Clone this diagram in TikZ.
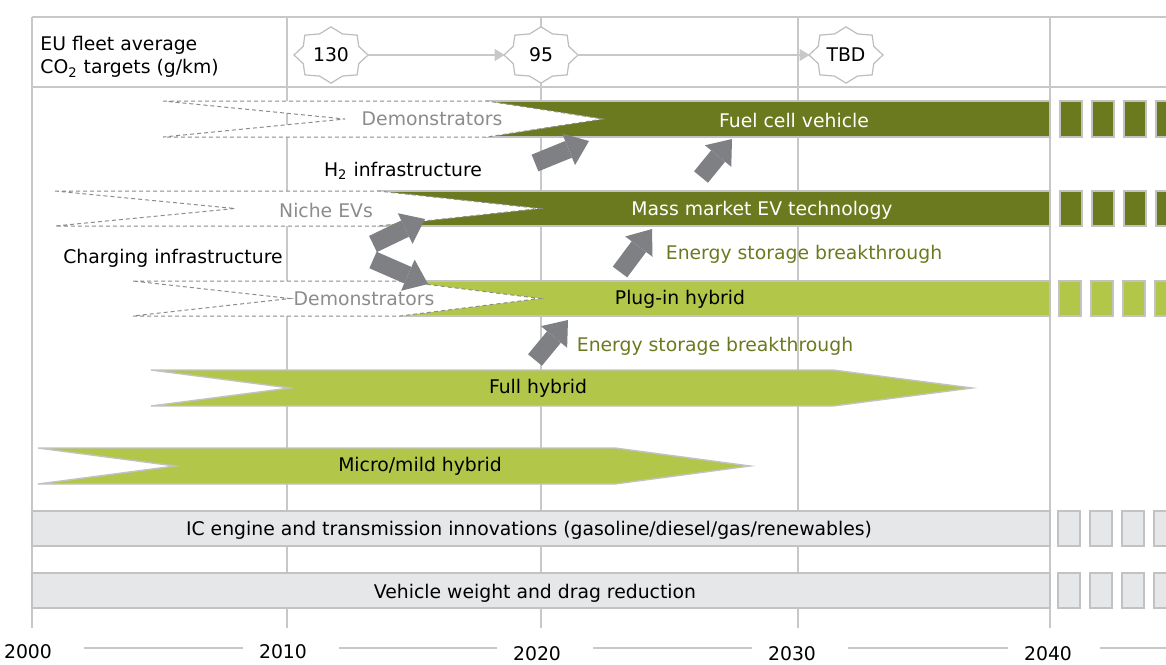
\documentclass[tikz,border=0pt]{standalone}
\usepackage{fontspec}
\setmainfont{DejaVu Sans}
\usepackage{xcolor}
\definecolor{cDark}{HTML}{6B7A1F}
\definecolor{cLight}{HTML}{B2C64A}
\definecolor{cBand}{HTML}{E6E7E8}
\definecolor{cEdge}{HTML}{C2C2C2}
\definecolor{cGrid}{HTML}{C8C8C8}
\definecolor{cArrow}{HTML}{7F8084}
\definecolor{cFaint}{HTML}{8C8C8C}
\definecolor{cStar}{HTML}{BDBDBD}
\usepackage{tikz}
\usetikzlibrary{positioning,arrows.meta,calc}
\tikzset{
  grid-line/.style={draw=cGrid,line width=0.8pt},
  bar-dark/.style={fill=cDark,draw=cEdge,line width=0.7pt},
  bar-light/.style={fill=cLight,draw=cEdge,line width=0.7pt},
  bar-band/.style={fill=cBand,draw=cEdge,line width=0.9pt},
  % faded lead-in part of a row (demonstrators / niche)
  bar-ghost/.style={fill=white,draw=cFaint,line width=0.5pt,dash pattern=on 2pt off 1.5pt},
  text-ghost/.style={text=cFaint},
  text-green/.style={text=cDark},
  co2-star/.style={minimum width=36pt,minimum height=26pt},
  star-line/.style={draw=cStar,line width=0.6pt,fill=white},
  co2-link/.style={draw=cGrid,line width=0.6pt,-{Triangle[length=5pt,width=6pt]}},
  push-arrow/.style={draw=cArrow,line width=9pt,-{Triangle[length=11pt,width=17pt,line width=0pt]}},
  axis-line/.style={draw=cGrid,line width=0.8pt},
}

\begin{document}
\begin{tikzpicture}[x=0.5pt,y=-0.5pt,every node/.append style={font=\fontsize{9.4}{11.5}\selectfont,inner sep=0pt}]
  \clip (0,0) rectangle (1166,664);

  % frame and year grid
  \draw[grid-line] (32,17) -- (1166,17);
  \draw[grid-line] (32,87) -- (1166,87);
  \foreach \x in {32,287,541,798,1050}
    \draw[grid-line] (\x,17) -- (\x,628);

  % header
  \node[anchor=west,align=left] (eu) at (40,57) {EU fleet average\\CO\textsubscript{2} targets (g/km)};
  \node[co2-star] (s130) at (331,55) {};
  \node[co2-star] (s95)  at (541,55) {};
  \node[co2-star] (stbd) at (846,55) {};
  \foreach \s in {s130,s95,stbd}
    \draw[star-line,shift={(\s.center)},yscale=0.76] (0:37)
      \foreach \a in {0,45,...,315}{ -- ({\a+22.5}:30) -- ({\a+45}:37) } -- cycle;
  \node at (s130) {130};
  \node at (s95)  {95};
  \node at (stbd) {TBD};
  \draw[co2-link] (s130) -- (s95);
  \draw[co2-link] (s95) -- (stbd);

  % bands at the bottom
  \draw[bar-band] (32,511) rectangle (1050,546);
  \draw[bar-band] (32,573) rectangle (1050,608);
  \foreach \x in {1058,1090,1122,1154}{
    \draw[bar-band] (\x,511) rectangle ++(22,35);
    \draw[bar-band] (\x,573) rectangle ++(22,35);
  }
  \node (ice) at (529,530) {IC engine and transmission innovations (gasoline/diesel/gas/renewables)};
  \node (weight) at (535,593) {Vehicle weight and drag reduction};

  % fuel cell row
  \draw[bar-dark] (487,101) rectangle (1050,137);
  \foreach \x in {1060,1092,1124,1156}
    \draw[bar-dark] (\x,101) rectangle ++(22,36);
  \draw[bar-ghost] (163,101) -- (487,101) -- (603,119) -- (487,137) -- (163,137) -- (345,119) -- cycle;
  \node[text-ghost] (demo-fc) at (432,119) {Demonstrators};
  \node[text=white] (fcv) at (794,120) {Fuel cell vehicle};

  % EV row
  \draw[bar-dark] (378,191) rectangle (1050,226);
  \foreach \x in {1060,1092,1124,1156}
    \draw[bar-dark] (\x,191) rectangle ++(22,35);
  \draw[bar-ghost] (55,191) -- (378,191) -- (540,208.5) -- (378,226) -- (55,226) -- (235,208.5) -- cycle;
  \node[text-ghost] (niche) at (326,210) {Niche EVs};
  \node[text=white] (ev) at (762,210) {Mass market EV technology};

  % plug-in row
  \draw[bar-light] (400,281) rectangle (1050,316);
  \foreach \x in {1059,1091,1123,1155}
    \draw[bar-light] (\x,281) rectangle ++(22,35);
  \draw[bar-ghost] (133,281) -- (400,281) -- (540,298.5) -- (400,316) -- (133,316) -- (290,298.5) -- cycle;
  \node[text-ghost] (demo-phev) at (364,299) {Demonstrators};
  \node (phev) at (680,299) {Plug-in hybrid};

  % hybrids
  \draw[bar-light] (151,370) -- (833,370) -- (972,388) -- (833,406) -- (151,406) -- (290,388) -- cycle;
  \node (full) at (538,388) {Full hybrid};
  \draw[bar-light] (38,448) -- (615,448) -- (750,466) -- (615,484) -- (38,484) -- (175,466) -- cycle;
  \node (mild) at (420,466) {Micro/mild hybrid};

  % enablers
  \node (h2) at (403,171) {H\textsubscript{2} infrastructure};
  \node (charge) at (173,258) {Charging infrastructure};
  \node[text-green] (esb-ev) at (804,254) {Energy storage breakthrough};
  \node[text-green] (esb-phev) at (715,346) {Energy storage breakthrough};

  \coordinate (h2-from) at (535,163);     \coordinate (h2-to) at (589,141);
  \coordinate (fc-from) at (701,177);     \coordinate (fc-to) at (732,139);
  \coordinate (ev-from) at (620,272);     \coordinate (ev-to) at (652,229);
  \coordinate (phev-from) at (535,360);   \coordinate (phev-to) at (568,320);
  \coordinate (niche-from) at (373,244);  \coordinate (niche-to) at (425,219);
  \coordinate (demo-from) at (373,260);   \coordinate (demo-to) at (428,284);
  \draw[push-arrow] (h2-from) -- (h2-to);
  \draw[push-arrow] (fc-from) -- (fc-to);
  \draw[push-arrow] (ev-from) -- (ev-to);
  \draw[push-arrow] (phev-from) -- (phev-to);
  \draw[push-arrow] (niche-from) -- (niche-to);
  \draw[push-arrow] (demo-from) -- (demo-to);

  % years
  \node (y2000) at (28,652) {2000};
  \node (y2010) at (283,652) {2010};
  \node (y2020) at (537,654) {2020};
  \node (y2030) at (792,654) {2030};
  \node (y2040) at (1048,654) {2040};
  \coordinate (axis) at (0,648);
  \coordinate (axis-end) at (1166,648);
  \foreach \a/\b in {y2000/y2010,y2010/y2020,y2020/y2030,y2030/y2040}
    \draw[axis-line,shorten <=16pt,shorten >=8pt] (\a.east |- axis) -- (\b.west |- axis);
  \draw[axis-line,shorten <=14pt] (y2040.east |- axis) -- (axis-end);
\end{tikzpicture}
\end{document}
